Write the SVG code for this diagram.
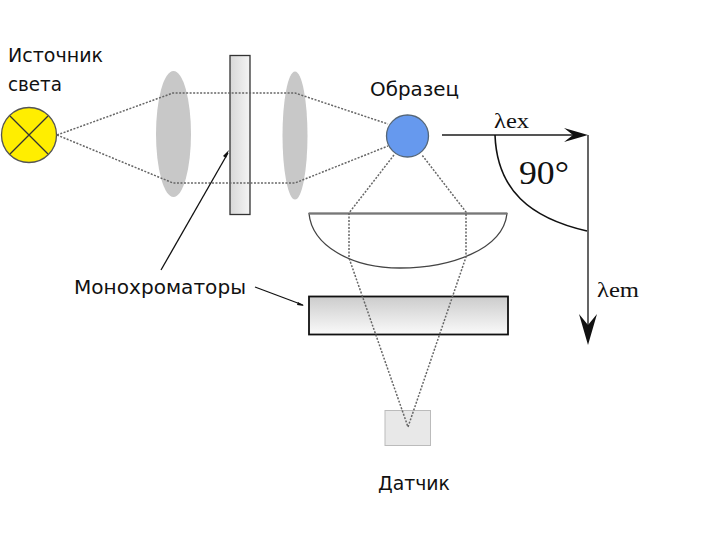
<svg xmlns="http://www.w3.org/2000/svg" width="720" height="540" viewBox="0 0 720 540">
<style>
.t{font-family:"DejaVu Sans","Noto Sans",sans-serif;font-size:19px;fill:#111}
.s{font-family:"Liberation Serif",serif;fill:#111}
.ray{fill:none;stroke:#666;stroke-width:1.5;stroke-dasharray:2 1.5}
.ln{fill:none;stroke:#111;stroke-width:1.6}
.lens{fill:#c8c8c8}
</style>
<defs>
<linearGradient id="gh" x1="0" x2="1" y1="0" y2="0"><stop offset="0" stop-color="#d8d8d8"/><stop offset="1" stop-color="#f4f4f4"/></linearGradient>
<linearGradient id="gv" x1="0" x2="0" y1="0" y2="1"><stop offset="0" stop-color="#cccccc"/><stop offset="1" stop-color="#fafafa"/></linearGradient>
</defs>
<g id="lens-1"><ellipse class="lens" cx="173.500" cy="134" rx="17.500" ry="63"/></g>
<g id="lens-2"><ellipse class="lens" cx="295" cy="135.500" rx="12.500" ry="64"/></g>
<g id="source"><circle cx="29" cy="135" r="27.500" fill="#ffee00" stroke="#555" stroke-width="1.300"/><path d="M10,116L48,154M48,116L10,154" fill="none" stroke="#333" stroke-width="1.300"/><text class="t" x="8" y="62" textLength="95" lengthAdjust="spacingAndGlyphs">Источник</text><text class="t" x="8" y="91" textLength="54" lengthAdjust="spacingAndGlyphs">света</text></g>
<g id="monochromator-1"><rect x="230" y="55.500" width="20" height="159" fill="url(#gh)" stroke="#333" stroke-width="1.300"/></g>
<g id="sample"><circle cx="407.500" cy="136" r="21" fill="#6699ee" stroke="#556677" stroke-width="1.300"/><text class="t" x="370" y="96" textLength="89" lengthAdjust="spacingAndGlyphs">Образец</text></g>
<g id="mirror"><path d="M309,213.500H507C503,250 450,268 400,268C350,268 312,245 309,213.500Z" fill="none" stroke="#444" stroke-width="1.300"/><path d="M309,213.500H507" stroke="#777" stroke-width="2.200"/></g>
<g id="monochromator-2"><rect x="309" y="296.500" width="199" height="38" fill="url(#gv)" stroke="#111" stroke-width="1.800"/></g>
<g id="detector"><rect x="385" y="410.500" width="45.500" height="35" fill="#e8e8e8" stroke="#bbb" stroke-width="1"/><text class="t" x="378" y="490" textLength="72" lengthAdjust="spacingAndGlyphs">Датчик</text></g>
<g id="connectors">
<path class="ray" d="M57,135L173,93H295L388,124"/>
<path class="ray" d="M57,135L173,183H295L388,146"/>
<path class="ray" d="M394,155L349,213V258L408,427L466,257V212L422,155"/>
<path d="M442,135H578" fill="none" stroke="#555" stroke-width="1.800"/>
<path d="M564,128L588,135L564,142L573,135Z" fill="#111"/>
<path d="M588,135V330" fill="none" stroke="#555" stroke-width="1.800"/>
<path d="M579,314L588,325L597,314L588,345Z" fill="#111"/>
<path d="M161,270L228,153" fill="none" stroke="#111" stroke-width="1.300"/>
<path d="M229,150l-6,6l3,2z" fill="#111"/>
<path d="M255,287L303,305" fill="none" stroke="#111" stroke-width="1.300"/>
<path d="M304,306l-7,-1l1,-3z" fill="#111"/>
<path class="ln" d="M495,135C497,190 530,218 587,231"/>
</g>
<g id="labels"><text class="t" x="74" y="294" textLength="172" lengthAdjust="spacingAndGlyphs">Монохроматоры</text><text class="s" x="494" y="128" font-size="20" textLength="35" lengthAdjust="spacingAndGlyphs">λex</text><text class="s" x="597" y="297" font-size="20" textLength="42" lengthAdjust="spacingAndGlyphs">λem</text><text class="s" x="519" y="184" font-size="33" textLength="50" lengthAdjust="spacingAndGlyphs">90°</text></g>
</svg>
